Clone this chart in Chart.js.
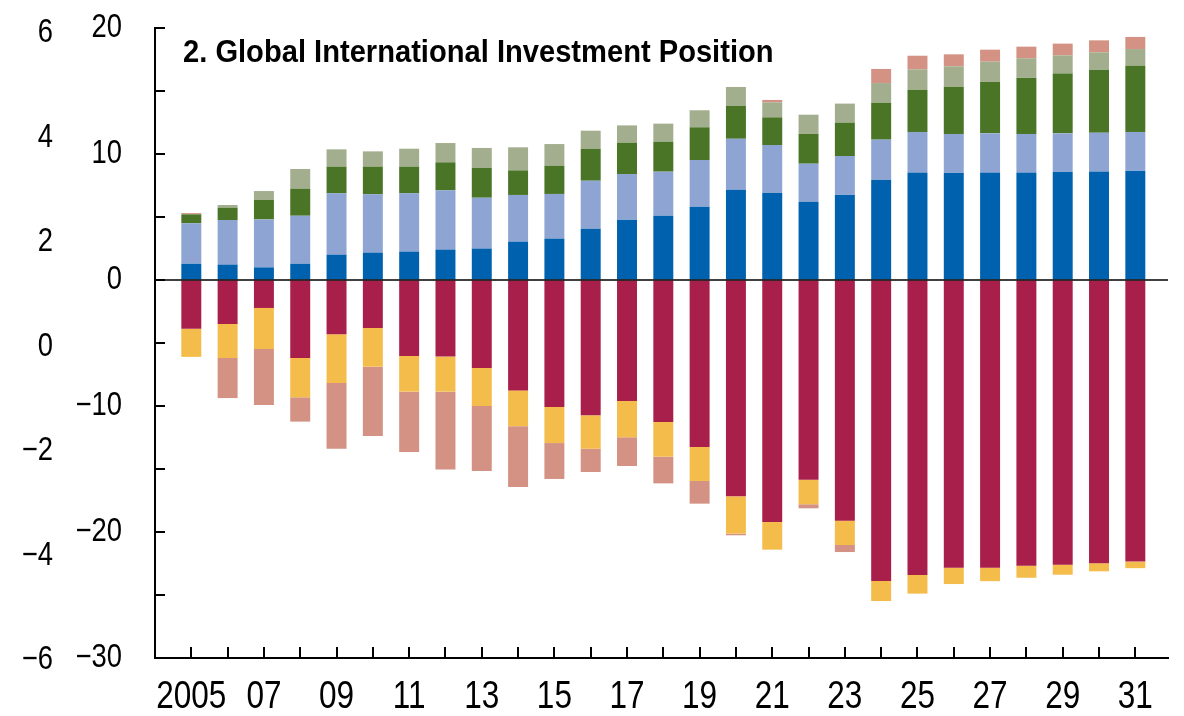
<!DOCTYPE html>
<html>
<head>
<meta charset="utf-8">
<script src="https://cdn.jsdelivr.net/npm/chart.js@4/dist/chart.umd.min.js"></script>
<style>
  html, body { margin: 0; padding: 0; background: #fff; }
</style>
</head>
<body>
<canvas id="chart" width="1184" height="716"></canvas>
<script>
// data, percent of world GDP
const title = '2. Global International Investment Position';
const years = [2005, 2006, 2007, 2008, 2009, 2010, 2011, 2012, 2013, 2014, 2015, 2016, 2017, 2018,
  2019, 2020, 2021, 2022, 2023, 2024, 2025, 2026, 2027, 2028, 2029, 2030, 2031];

const darkBlue = [1.29, 1.22, 1.0, 1.29, 2.01, 2.17, 2.25, 2.41, 2.49, 3.04, 3.28, 4.07, 4.79, 5.1,
  5.82, 7.17, 6.9, 6.21, 6.75, 7.96, 8.54, 8.52, 8.54, 8.54, 8.6, 8.62, 8.68];
const lightBlue = [3.21, 3.54, 3.81, 3.81, 4.87, 4.63, 4.63, 4.71, 4.04, 3.71, 3.55, 3.81, 3.62, 3.5,
  3.7, 4.04, 3.81, 3.02, 3.09, 3.18, 3.21, 3.07, 3.1, 3.05, 3.04, 3.07, 3.07];
const darkGreen = [0.71, 0.98, 1.56, 2.15, 2.12, 2.2, 2.12, 2.22, 2.36, 1.95, 2.24, 2.54, 2.49, 2.38,
  2.6, 2.62, 2.2, 2.36, 2.65, 2.93, 3.35, 3.75, 4.1, 4.47, 4.74, 5.0, 5.25];
const greyGreen = [0, 0.21, 0.69, 1.56, 1.37, 1.21, 1.42, 1.53, 1.59, 1.83, 1.72, 1.43, 1.37, 1.43,
  1.35, 1.49, 1.19, 1.53, 1.51, 1.56, 1.62, 1.62, 1.59, 1.54, 1.45, 1.38, 1.33];
const crimson = [-3.87, -3.49, -2.22, -6.19, -4.31, -3.81, -6.03, -6.08, -6.98, -8.76, -10.08, -10.74, -9.6, -11.27,
  -13.25, -17.17, -19.21, -15.85, -19.1, -23.88, -23.41, -22.83, -22.83, -22.67, -22.59, -22.48, -22.35];
const yellow = [-2.23, -2.7, -3.26, -3.12, -3.86, -3.07, -2.83, -2.78, -3.02, -2.84, -2.86, -2.65, -2.88, -2.75,
  -2.7, -2.96, -2.19, -1.95, -1.93, -1.6, -1.48, -1.3, -1.07, -0.96, -0.8, -0.64, -0.52];
const salmon = [0.1, -3.18, -4.44, -1.93, -5.22, -5.5, -4.79, -6.17, -5.16, -4.83, -2.85, -1.85, -2.28, -2.12,
  -1.8, -0.13, 0.19, -0.32, -0.56, 1.12, 1.08, 0.95, 0.95, 0.92, 0.93, 0.95, 0.96];

const leftTicks = [20, 10, 0, -10, -20, -30];
const outerTicks = [6, 4, 2, 0, -2, -4, -6];

const FONT = "'Liberation Sans', Arial, sans-serif";
// the original uses a narrow face; squeeze the regular one instead
const NARROW = 0.83;

const minus = (v) => String(v).replace('-', '\u2212');
const yearLabel = (yr) => {
  if (yr === years[0]) return String(yr);
  return yr % 2 === 1 ? String(yr).slice(2) : '';
};

function squeezed(ctx, text, x, y, sx, align) {
  ctx.save();
  ctx.translate(x, y);
  ctx.scale(sx, 1);
  ctx.textAlign = align;
  ctx.fillText(text, 0, 0);
  ctx.restore();
}

// inward tick marks, zero line, tick labels and the panel title
const axisMarks = {
  id: 'axisMarks',
  afterDatasetsDraw(chart) {
    const { ctx, chartArea, scales: { x, y, y2 } } = chart;
    ctx.save();
    ctx.strokeStyle = '#000';
    ctx.lineWidth = 1.5;
    const y0 = y.getPixelForValue(0);
    ctx.beginPath();
    ctx.moveTo(chartArea.left, y0);
    ctx.lineTo(chartArea.right, y0);
    ctx.stroke();

    ctx.lineWidth = 2;
    ctx.beginPath();
    for (let v = y.min; v <= y.max; v += 5) {
      const p = Math.round(y.getPixelForValue(v));
      ctx.moveTo(chartArea.left, p);
      ctx.lineTo(chartArea.left + 10, p);
    }
    years.forEach((yr) => {
      const p = Math.round(x.getPixelForValue(yr));
      ctx.moveTo(p, chartArea.bottom);
      ctx.lineTo(p, chartArea.bottom - 11);
    });
    ctx.stroke();

    ctx.fillStyle = '#000';
    ctx.textBaseline = 'middle';
    ctx.font = '33px ' + FONT;
    leftTicks.forEach((v) => squeezed(ctx, minus(v), y.right - 33, y.getPixelForValue(v), NARROW, 'right'));
    outerTicks.forEach((v) => squeezed(ctx, minus(v), y2.right - 17, y2.getPixelForValue(v), NARROW, 'right'));
    ctx.font = '38px ' + FONT;
    years.forEach((yr) => {
      const t = yearLabel(yr);
      if (t) squeezed(ctx, t, x.getPixelForValue(yr), x.top + 40, NARROW, 'center');
    });

    ctx.font = 'bold 32px ' + FONT;
    ctx.textBaseline = 'alphabetic';
    squeezed(ctx, title, chartArea.left + 28, chartArea.top + 34, 0.91, 'left');
    ctx.restore();
  }
};

const bar = (label, data, color) => ({
  label, data, backgroundColor: color, borderWidth: 0,
  barPercentage: 0.55, categoryPercentage: 1, stack: 'all'
});

new Chart(document.getElementById('chart'), {
  type: 'bar',
  data: {
    labels: years,
    datasets: [
      bar('dark blue', darkBlue, '#0061ae'),
      bar('light blue', lightBlue, '#8ea5d3'),
      bar('dark green', darkGreen, '#4a7527'),
      bar('grey green', greyGreen, '#a3ae8e'),
      bar('crimson', crimson, '#a91f4b'),
      bar('yellow', yellow, '#f4bc4a'),
      bar('salmon', salmon, '#d39283')
    ]
  },
  options: {
    responsive: false,
    animation: false,
    layout: { padding: { top: 28, right: 16, left: 0, bottom: 0 } },
    plugins: { legend: { display: false }, tooltip: { enabled: false } },
    scales: {
      x: {
        type: 'linear',
        offset: false,
        stacked: true,
        min: 2004,
        max: 2031.9,
        grid: { drawOnChartArea: false, drawTicks: false },
        border: { display: true, color: '#000', width: 2 },
        ticks: { display: false, stepSize: 1 },
        afterFit: (s) => { s.height = 58; }
      },
      y: {
        position: 'left',
        stacked: true,
        min: -30,
        max: 20,
        weight: 0,
        grid: { drawOnChartArea: false, drawTicks: false },
        border: { display: true, color: '#000', width: 2 },
        ticks: { display: false, stepSize: 10 },
        afterFit: (s) => { s.width = 85; }
      },
      y2: {
        position: 'left',
        min: -5.96,
        max: 6.1,
        weight: 1,
        grid: { display: false, drawTicks: false },
        border: { display: false },
        ticks: { display: false, stepSize: 2 },
        afterFit: (s) => { s.width = 70; }
      }
    }
  },
  plugins: [axisMarks]
});
</script>
</body>
</html>
